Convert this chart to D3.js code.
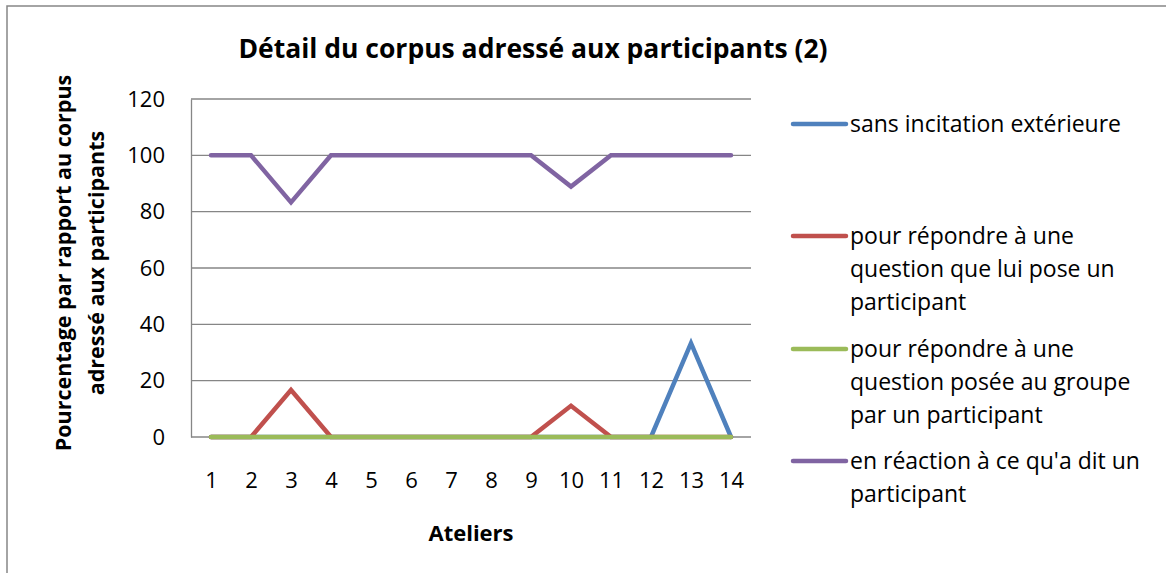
<!DOCTYPE html>
<html>
<head>
<meta charset="utf-8">
<script src="https://cdn.jsdelivr.net/npm/d3@7"></script>
<style>
  body { margin: 0; background: #fff; }
  svg text { font-family: "Open Sans", "Liberation Sans", sans-serif; fill: #000; }
</style>
</head>
<body>
<script>
// data
var ateliers = [1, 2, 3, 4, 5, 6, 7, 8, 9, 10, 11, 12, 13, 14];
var sansIncitation = [0, 0, 0, 0, 0, 0, 0, 0, 0, 0, 0, 0, 33.3, 0];
var questionParticipant = [0, 0, 16.7, 0, 0, 0, 0, 0, 0, 11.1, 0, 0, 0, 0];
var questionGroupe = [0, 0, 0, 0, 0, 0, 0, 0, 0, 0, 0, 0, 0, 0];
var enReaction = [100, 100, 83.3, 100, 100, 100, 100, 100, 100, 88.9, 100, 100, 100, 100];
var yTicks = [0, 20, 40, 60, 80, 100, 120];

var series = [
  { lines: ["sans incitation extérieure"], values: sansIncitation, color: "#4F81BD" },
  { lines: ["pour répondre à une", "question que lui pose un", "participant"], values: questionParticipant, color: "#C0504D" },
  { lines: ["pour répondre à une", "question posée au groupe", "par un participant"], values: questionGroupe, color: "#9BBB59" },
  { lines: ["en réaction à ce qu'a dit un", "participant"], values: enReaction, color: "#8064A2" }
];

var width = 1166, height = 573;
var plot = { left: 191, right: 751, top: 99, bottom: 437 };

var svg = d3.select("body").append("svg").attr("width", width).attr("height", height);

//outer chart border
svg.append("rect").attr("x", 7).attr("y", 6).attr("width", width).attr("height", height)
  .attr("fill", "none").attr("stroke", "#868686").attr("stroke-width", 1.5);

var x = d3.scalePoint().domain(ateliers).range([plot.left, plot.right]).padding(0.5);
var y = d3.scaleLinear().domain([0, 120]).range([plot.bottom, plot.top]);

//gridlines
svg.append("g").selectAll("line").data(yTicks).enter().append("line")
  .attr("x1", plot.left).attr("x2", plot.right)
  .attr("y1", function(d) { return y(d); }).attr("y2", function(d) { return y(d); })
  .attr("stroke", "#868686").attr("stroke-width", 1.3);

//y axis
var yAxis = svg.append("g").attr("transform", "translate(" + plot.left + ",0)")
  .call(d3.axisLeft(y).tickValues(yTicks).tickSize(0).tickPadding(26));
yAxis.select(".domain").attr("stroke", "#868686").attr("stroke-width", 1.3);
yAxis.selectAll("text").style("font-size", "22px").style("font-family", "Open Sans, sans-serif").attr("fill", "#000");

//x axis labels
var xAxis = svg.append("g").attr("transform", "translate(0," + plot.bottom + ")")
  .call(d3.axisBottom(x).tickSize(0).tickPadding(35));
xAxis.select(".domain").remove();
xAxis.selectAll("text").style("font-size", "22px").style("font-family", "Open Sans, sans-serif").attr("fill", "#000");

//lines
var line = d3.line()
  .x(function(d, i) { return x(ateliers[i]); })
  .y(function(d) { return y(d); });

series.forEach(function(s) {
  svg.append("path").datum(s.values).attr("d", line)
    .attr("fill", "none").attr("stroke", s.color).attr("stroke-width", 4.5)
    .attr("stroke-linecap", "round").attr("stroke-linejoin", "miter");
});

//title
svg.append("text").attr("x", 533).attr("y", 58).attr("text-anchor", "middle")
  .style("font-size", "26.5px").style("font-weight", "bold")
  .text("Détail du corpus adressé aux participants (2)");

//axis titles
svg.append("text").attr("x", 471).attr("y", 541).attr("text-anchor", "middle")
  .style("font-size", "22px").style("font-weight", "bold").text("Ateliers");

var yt = svg.append("text").attr("transform", "translate(0,263) rotate(-90)")
  .attr("text-anchor", "middle").style("font-size", "21.5px").style("font-weight", "bold");
yt.append("tspan").attr("x", 0).attr("y", 71).text("Pourcentage par rapport au corpus");
yt.append("tspan").attr("x", 0).attr("y", 104).text("adressé aux participants");

//legend
var legendTop = [124, 236, 349, 461];
var legend = svg.append("g");
series.forEach(function(s, i) {
  var g = legend.append("g").attr("transform", "translate(0," + legendTop[i] + ")");
  g.append("line").attr("x1", 793).attr("x2", 846).attr("y1", 0).attr("y2", 0)
    .attr("stroke", s.color).attr("stroke-width", 4.5).attr("stroke-linecap", "round");
  s.lines.forEach(function(t, j) {
    g.append("text").attr("x", 850).attr("y", 8 + j * 33)
      .style("font-size", "23px").text(t);
  });
});
</script>
</body>
</html>
